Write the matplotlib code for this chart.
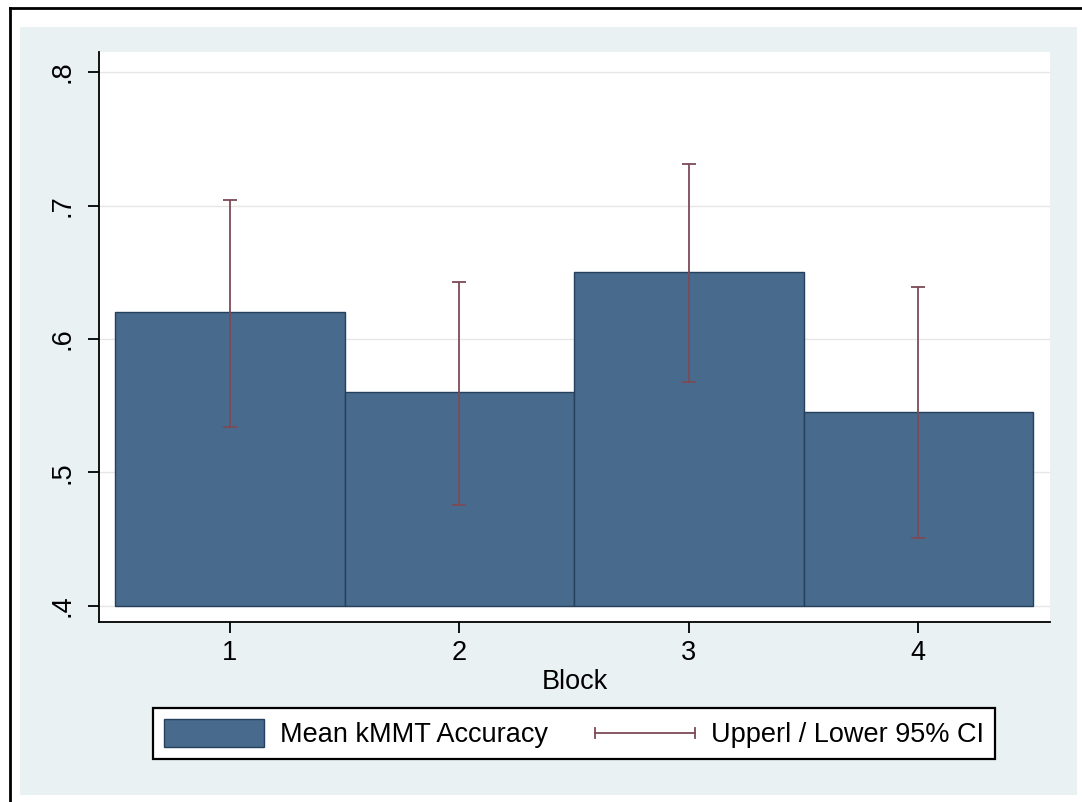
import matplotlib
matplotlib.use("Agg")
import matplotlib.pyplot as plt
from matplotlib.patches import Rectangle, Patch
from matplotlib.lines import Line2D
from matplotlib.legend_handler import HandlerBase

# ---- data ----
blocks = [1, 2, 3, 4]
mean_acc = [0.62, 0.56, 0.65, 0.545]
ci_upper = [0.704, 0.643, 0.731, 0.639]
ci_lower = [0.534, 0.476, 0.568, 0.451]
ytick_vals = [0.4, 0.5, 0.6, 0.7, 0.8]
ytick_labels = [".4", ".5", ".6", ".7", ".8"]
xtick_labels = ["1", "2", "3", "4"]
bar_label = "Mean kMMT Accuracy"
ci_label = "Upperl / Lower 95% CI"
x_title = "Block"

BAR_COLOR = "#486a8c"
BAR_EDGE = "#24405c"
CI_COLOR = "#7d4a57"
BG = "#eaf1f3"
FS = 19.5

plt.rcParams['font.family'] = ['Liberation Sans', 'DejaVu Sans']

W, H = 1082, 802
fig = plt.figure(figsize=(W / 100, H / 100), dpi=100)
fig.patch.set_facecolor("white")

def fx(px):
    return px / W

def fy(py):
    return 1 - py / H

# outer light-blue region
fig.add_artist(Rectangle((fx(20), fy(795)), fx(1077) - fx(20), fy(27) - fy(795),
                         transform=fig.transFigure, facecolor=BG, edgecolor="none", zorder=0))
# black frame lines (left and top)
fig.add_artist(Line2D([fx(10), fx(10)], [0, fy(8)], transform=fig.transFigure,
                      color="black", lw=2.0, zorder=1))
fig.add_artist(Line2D([fx(10), 1], [fy(8), fy(8)], transform=fig.transFigure,
                      color="black", lw=2.0, zorder=1))

ax = fig.add_axes([fx(99), fy(622), fx(1050) - fx(99), fy(52) - fy(622)])
ax.set_facecolor("white")

bottom = 0.4
heights = [m - bottom for m in mean_acc]
ax.bar(blocks, heights, bottom=bottom, width=1.0, color=BAR_COLOR,
       edgecolor=BAR_EDGE, linewidth=1.0, zorder=2)

yerr = [[m - l for m, l in zip(mean_acc, ci_lower)],
        [u - m for m, u in zip(mean_acc, ci_upper)]]
ax.errorbar(blocks, mean_acc, yerr=yerr, fmt="none", ecolor=CI_COLOR,
            elinewidth=1.3, capsize=4.8, capthick=1.3, zorder=3)

ax.set_xlim(0.43, 4.574)
ax.set_ylim(0.388, 0.815)

ax.set_yticks(ytick_vals)
ax.set_yticklabels(ytick_labels, rotation=90, va="center", fontsize=FS)
ax.set_xticks(blocks)
ax.set_xticklabels(xtick_labels, fontsize=FS)

ax.yaxis.grid(True, color="#e6e6e6", linewidth=1.0, zorder=0)
ax.set_axisbelow(True)

for s in ["top", "right"]:
    ax.spines[s].set_visible(False)
for s in ["left", "bottom"]:
    ax.spines[s].set_linewidth(1.3)
    ax.spines[s].set_color("black")

ax.tick_params(axis="both", direction="out", length=8, width=1.3, colors="black")
ax.tick_params(axis="y", pad=9)
ax.tick_params(axis="x", pad=5)

ax.set_xlabel(x_title, fontsize=FS, labelpad=2)


class HandlerCI(HandlerBase):
    def create_artists(self, legend, orig_handle, xdescent, ydescent,
                       width, height, fontsize, trans):
        y = height / 2 - ydescent
        x0 = -xdescent
        x1 = -xdescent + width
        c = 3.5
        arts = [
            Line2D([x0, x1], [y, y], color=CI_COLOR, lw=1.3),
            Line2D([x0, x0], [y - c, y + c], color=CI_COLOR, lw=1.3),
            Line2D([x1, x1], [y - c, y + c], color=CI_COLOR, lw=1.3),
        ]
        for a in arts:
            a.set_transform(trans)
        return arts


bar_handle = Patch(facecolor=BAR_COLOR, edgecolor=BAR_EDGE, linewidth=1.0)
ci_handle = Line2D([], [], color=CI_COLOR)

leg = fig.legend([bar_handle, ci_handle], [bar_label, ci_label],
                 loc="center", bbox_to_anchor=(fx(574), fy(733.5)),
                 ncol=2, fontsize=FS, frameon=True, fancybox=False,
                 handlelength=3.7, handleheight=1.25, handletextpad=0.57,
                 columnspacing=1.75, borderpad=0.4,
                 handler_map={Line2D: HandlerCI()})
frame = leg.get_frame()
frame.set_edgecolor("black")
frame.set_linewidth(1.6)
frame.set_facecolor("white")
frame.set_alpha(1.0)

fig.savefig("out.png", dpi=100, facecolor=fig.get_facecolor())
